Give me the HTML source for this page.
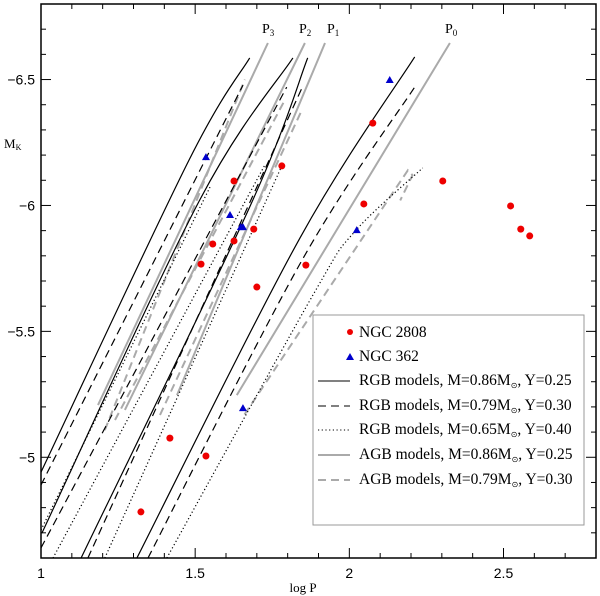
<!DOCTYPE html>
<html><head><meta charset="utf-8"><style>
body{margin:0;background:#fff}
svg{display:block;font-family:"Liberation Serif",serif}
</style></head><body>
<svg id="chart" width="600" height="596" viewBox="0 0 600 596" xmlns="http://www.w3.org/2000/svg">
<g id="lines"></g>
<g id="pts"></g>
<g id="axes"></g>
<g font-size="14">
<text x="262" y="33">P<tspan font-size="9" dy="3">3</tspan></text>
<text x="299" y="33">P<tspan font-size="9" dy="3">2</tspan></text>
<text x="327" y="33">P<tspan font-size="9" dy="3">1</tspan></text>
<text x="445" y="33">P<tspan font-size="9" dy="3">0</tspan></text>
</g>
<text x="4" y="148" font-size="13">M<tspan font-size="8" dy="2">K</tspan></text>
<text x="303" y="592" font-size="13" text-anchor="middle">log P</text>
<g font-size="15.5">
<rect x="313" y="315" width="271" height="210" fill="#fff" stroke="#999" stroke-width="1"/>
<circle cx="350" cy="332" r="3" fill="#e00"/><text x="359" y="337">NGC 2808</text>
<path d="M346,360 L350,353 L354,360Z" fill="#00c"/><text x="359" y="361">NGC 362</text>
<line x1="318" y1="381" x2="350" y2="381" stroke="#000"/><text x="359" y="385">RGB models, M=0.86M<tspan font-size="8" dy="3">⊙</tspan><tspan dy="-3">, Y=0.25</tspan></text>
<line x1="318" y1="406" x2="350" y2="406" stroke="#000" stroke-dasharray="8,5"/><text x="359" y="410">RGB models, M=0.79M<tspan font-size="8" dy="3">⊙</tspan><tspan dy="-3">, Y=0.30</tspan></text>
<line x1="318" y1="430" x2="350" y2="430" stroke="#000" stroke-dasharray="1.2,2.5"/><text x="359" y="434">RGB models, M=0.65M<tspan font-size="8" dy="3">⊙</tspan><tspan dy="-3">, Y=0.40</tspan></text>
<line x1="318" y1="455" x2="350" y2="455" stroke="#aaa" stroke-width="2"/><text x="359" y="459">AGB models, M=0.86M<tspan font-size="8" dy="3">⊙</tspan><tspan dy="-3">, Y=0.25</tspan></text>
<line x1="318" y1="480" x2="350" y2="480" stroke="#aaa" stroke-width="2" stroke-dasharray="8,5"/><text x="359" y="484">AGB models, M=0.79M<tspan font-size="8" dy="3">⊙</tspan><tspan dy="-3">, Y=0.30</tspan></text>
</g>
</svg>
<script>
const xTicks=[1,1.5,2,2.5];
const yTicks=[-6.5,-6,-5.5,-5];
const rgbSolid=[
[[1.000,-4.941],[1.480,-6.180],[1.677,-6.586]],
[[1.003,-4.699],[1.515,-6.022],[1.817,-6.586]],
[[1.130,-4.600],[1.677,-5.994],[1.865,-6.586]],
[[1.311,-4.600],[1.840,-5.871],[2.212,-6.590]]];
const rgbDashed=[
[[1.000,-4.890],[1.655,-6.478]],
[[1.000,-4.640],[1.797,-6.470]],
[[1.152,-4.600],[1.846,-6.466]],
[[1.347,-4.600],[1.850,-5.790],[2.212,-6.470]]];
const rgbDotted=[
[[1.000,-4.711],[1.548,-6.073]],
[[1.039,-4.600],[1.726,-6.161]],
[[1.207,-4.600],[1.781,-6.157]],
[[1.408,-4.600],[1.882,-5.644],[2.018,-5.897],[2.238,-6.149]]];
const agbSolid=[
[[1.185,-5.207],[1.736,-6.645]],
[[1.272,-5.188],[1.856,-6.645]],
[[1.441,-5.247],[1.921,-6.645]],
[[1.635,-5.247],[2.326,-6.645]]];
const agbDashed=[
[[1.207,-5.108],[1.661,-6.500]],
[[1.240,-5.148],[1.791,-6.419]],
[[1.386,-5.168],[1.846,-6.379]],
[[1.660,-5.170],[2.190,-6.140],[2.205,-6.120],[2.165,-6.020]]];
const ngc2808P=[1.781,1.626,1.690,1.557,1.626,1.519,1.700,2.076,2.303,2.047,2.523,2.556,2.585,1.859,1.324,1.418,1.535];
const ngc2808M=[-6.157,-6.097,-5.906,-5.847,-5.859,-5.767,-5.676,-6.327,-6.097,-6.006,-5.998,-5.906,-5.879,-5.763,-4.783,-5.076,-5.005];
const ngc362P=[1.535,1.613,1.648,1.655,2.131,2.024,1.655];
const ngc362M=[-6.192,-5.962,-5.914,-5.914,-6.498,-5.902,-5.195];

const X0=41,X1=596,Y0=4,Y1=558,xmin=1,xmax=2.8,ymin=-6.8,ymax=-4.6;
const sx=v=>X0+(v-xmin)/(xmax-xmin)*(X1-X0);
const sy=v=>Y0+(v-ymin)/(ymax-ymin)*(Y1-Y0);
const NS='http://www.w3.org/2000/svg';
function mk(t,a,p){const e=document.createElementNS(NS,t);for(const k in a)e.setAttribute(k,a[k]);p.appendChild(e);return e;}
const L=document.getElementById('lines'),P=document.getElementById('pts'),A=document.getElementById('axes');
function pathD(ln,straight){const q=ln.map(p=>[sx(p[0]),sy(p[1])]);
 let d='M'+q[0][0].toFixed(1)+','+q[0][1].toFixed(1);
 if(straight){for(let i=1;i<q.length;i++)d+=' L'+q[i][0].toFixed(1)+','+q[i][1].toFixed(1);return d;}
 for(let i=0;i<q.length-1;i++){const p0=q[Math.max(i-1,0)],p1=q[i],p2=q[i+1],p3=q[Math.min(i+2,q.length-1)];
  const c1=[p1[0]+(p2[0]-p0[0])/6,p1[1]+(p2[1]-p0[1])/6],c2=[p2[0]-(p3[0]-p1[0])/6,p2[1]-(p3[1]-p1[1])/6];
  d+=` C${c1[0].toFixed(1)},${c1[1].toFixed(1)} ${c2[0].toFixed(1)},${c2[1].toFixed(1)} ${p2[0].toFixed(1)},${p2[1].toFixed(1)}`;}
 return d;}
function draw(set,name,stroke,w,dash){set.forEach((ln,i)=>{
 const e=mk('path',{d:pathD(ln,ln.length>3&&name.startsWith('agb')),fill:'none',stroke:stroke,'stroke-width':w},L);
 if(dash)e.setAttribute('stroke-dasharray',dash);
 
 });}
draw(agbSolid,'agb-086-line','#aaa',2,null);
draw(agbDashed,'agb-079-line','#aaa',2,'8,5');
draw(rgbSolid,'rgb-086-line','#000',1.2,null);
draw(rgbDashed,'rgb-079-line','#000',1.2,'8,5');
draw(rgbDotted,'rgb-065-line','#000',1.2,'1.2,2.5');
ngc2808P.forEach((v,i)=>{const c=mk('circle',{cx:sx(v),cy:sy(ngc2808M[i]),r:3.5,fill:'#e00'},P);
 
 });
ngc362P.forEach((v,i)=>{const x=sx(v),y=sy(ngc362M[i]);
 const t=mk('path',{d:`M${x-4},${y+3} L${x},${y-4} L${x+4},${y+3}Z`,fill:'#00c'},P);
 
 });
const fr=mk('rect',{x:X0,y:Y0,width:X1-X0,height:Y1-Y0,fill:'none',stroke:'#000','stroke-width':1.5},A);


for(let k=0;k<=18;k++){const v=1+k*0.1,x=sx(v),len=(k%5==0)?10:5;
 mk('line',{x1:x,y1:Y1,x2:x,y2:Y1-len,stroke:'#000'},A);mk('line',{x1:x,y1:Y0,x2:x,y2:Y0+len,stroke:'#000'},A);}
for(let k=0;k<=22;k++){const v=-6.8+k*0.1,y=sy(v),len=(Math.abs(v*2-Math.round(v*2))<1e-6)?10:5;
 mk('line',{x1:X0,y1:y,x2:X0+len,y2:y,stroke:'#000'},A);mk('line',{x1:X1,y1:y,x2:X1-len,y2:y,stroke:'#000'},A);}
xTicks.forEach(v=>{const t=mk('text',{x:sx(v),y:578,'font-size':14,'text-anchor':'middle','font-family':'Liberation Sans, sans-serif'},A);t.textContent=String(v);
 
 });
yTicks.forEach(v=>{const t=mk('text',{x:35,y:sy(v)+5,'font-size':14,'text-anchor':'end','font-family':'Liberation Sans, sans-serif'},A);t.textContent=String(v).replace('-','−');
 
 });
</script>
</body></html>
